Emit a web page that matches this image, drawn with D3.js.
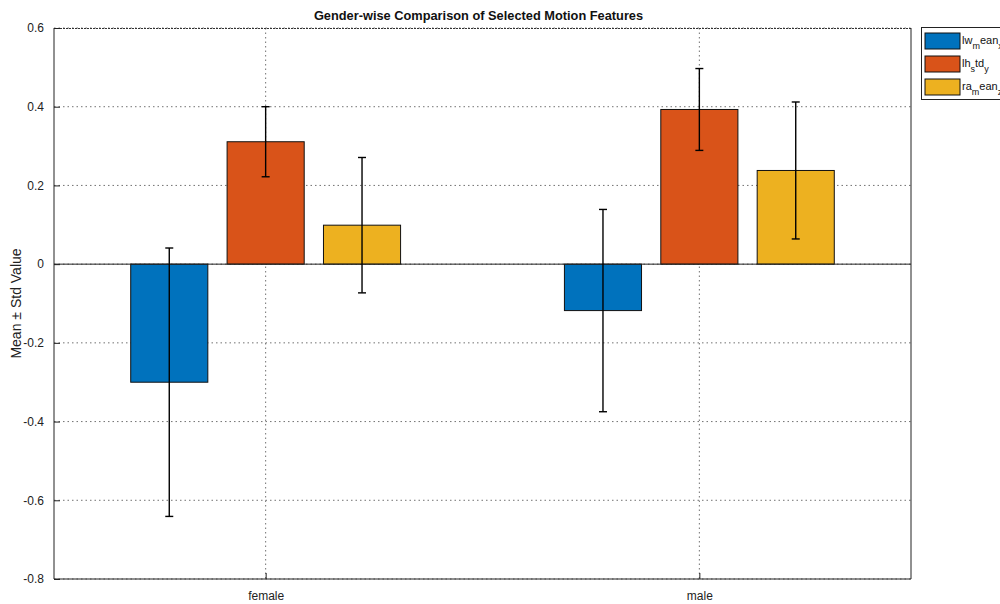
<!DOCTYPE html>
<html><head><meta charset="utf-8">
<script src="https://cdn.jsdelivr.net/npm/d3@7"></script>
<style>
html,body{margin:0;padding:0;background:#fff;overflow:hidden}
text{font-family:"Liberation Sans",Arial,sans-serif}
</style></head>
<body>
<svg id="c" width="1000" height="604"></svg>
<script>
const categories = ["female", "male"];
const seriesNames = ["lw_mean_x", "lh_std_y", "ra_mean_z"];
const legendParts = [
  [["lw",0],["m",1],["ean",0],["x",1]],
  [["lh",0],["s",1],["td",0],["y",1]],
  [["ra",0],["m",1],["ean",0],["z",1]]
];
const meanLw = [-0.300, -0.118];
const meanLh = [0.311, 0.393];
const meanRa = [0.099, 0.238];
const stdLw = [0.341, 0.257];
const stdLh = [0.089, 0.104];
const stdRa = [0.172, 0.174];
const yTicks = [-0.8, -0.6, -0.4, -0.2, 0, 0.2, 0.4, 0.6];
const yTickLabels = ["-0.8", "-0.6", "-0.4", "-0.2", "0", "0.2", "0.4", "0.6"];
const colors = ["#0072BD", "#D95319", "#EDB120"];

const means = [meanLw, meanLh, meanRa];
const stds = [stdLw, stdLh, stdRa];

const svg = d3.select("#c");
const L = 54, R = 911, T = 28, B = 579;
const x = d3.scaleLinear().domain([0.512, 2.488]).range([L, R]);
const y = d3.scaleLinear().domain([-0.8, 0.6]).range([B, T]);

// grid
const g = svg.append("g");
g.selectAll("line.gy").data(yTicks).enter().append("line")
  .attr("x1", L).attr("x2", R).attr("y1", d => y(d)).attr("y2", d => y(d))
  .attr("stroke", "#444").attr("stroke-width", 1).attr("stroke-dasharray", "1.5,3").attr("opacity", 0.75);
g.selectAll("line.gx").data(categories).enter().append("line")
  .attr("x1", (d,i) => x(i+1)).attr("x2", (d,i) => x(i+1)).attr("y1", T).attr("y2", B)
  .attr("stroke", "#444").attr("stroke-width", 1).attr("stroke-dasharray", "1.5,3").attr("opacity", 0.75);

// bars
const nS = seriesNames.length;
const groupW = Math.min(0.8, nS / (nS + 1.5));
const barW = groupW / nS * 0.8;
const offs = d3.range(nS).map(s => (s - (nS - 1) / 2) * groupW / nS);

const bars = svg.append("g");
means.forEach((arr, s) => {
  bars.selectAll("rect.s" + s).data(arr).enter().append("rect")
    .attr("x", (d,i) => x(i + 1 + offs[s] - barW/2))
    .attr("width", x(barW) - x(0))
    .attr("y", d => y(Math.max(0, d)))
    .attr("height", d => Math.abs(y(d) - y(0)))
    .attr("fill", colors[s]).attr("stroke", "#111").attr("stroke-width", 1);
});

// baseline
svg.append("line").attr("x1", L).attr("x2", R).attr("y1", y(0)).attr("y2", y(0))
  .attr("stroke", "#222").attr("stroke-width", 1);

// error bars
const eb = svg.append("g").attr("stroke", "#000").attr("stroke-width", 1.4);
means.forEach((arr, s) => {
  arr.forEach((m, i) => {
    const cx = x(i + 1 + offs[s]);
    const lo = y(m - stds[s][i]), hi = y(m + stds[s][i]);
    eb.append("line").attr("x1", cx).attr("x2", cx).attr("y1", lo).attr("y2", hi);
    eb.append("line").attr("x1", cx - 4).attr("x2", cx + 4).attr("y1", lo).attr("y2", lo);
    eb.append("line").attr("x1", cx - 4).attr("x2", cx + 4).attr("y1", hi).attr("y2", hi);
  });
});

// axes box
svg.append("line").attr("x1", L).attr("x2", R).attr("y1", T + 0.5).attr("y2", T + 0.5)
  .attr("stroke", "#333").attr("stroke-width", 1).attr("stroke-dasharray", "2,1");
svg.append("line").attr("x1", L).attr("x2", R).attr("y1", B).attr("y2", B).attr("stroke", "#222").attr("stroke-width", 1);
svg.append("line").attr("x1", L).attr("x2", L).attr("y1", T).attr("y2", B).attr("stroke", "#222").attr("stroke-width", 1);
svg.append("line").attr("x1", R).attr("x2", R).attr("y1", T).attr("y2", B).attr("stroke", "#222").attr("stroke-width", 1);

// y axis ticks + labels
const yAxis = d3.axisLeft(y).tickValues(yTicks).tickSizeInner(-6).tickSizeOuter(0).tickPadding(10)
  .tickFormat((d, i) => yTickLabels[i]);
const ya = svg.append("g").attr("transform", `translate(${L},0)`).call(yAxis);
ya.select(".domain").remove();
ya.selectAll("line").attr("stroke", "#222");
ya.selectAll("text").attr("font-size", 12).attr("fill", "#222").attr("font-family", "Liberation Sans, Arial, sans-serif");

// x axis
const xAxis = d3.axisBottom(x).tickValues([1, 2]).tickSizeInner(-6).tickSizeOuter(0).tickPadding(12)
  .tickFormat(d => categories[d - 1]);
const xa = svg.append("g").attr("transform", `translate(0,${B})`).call(xAxis);
xa.select(".domain").remove();
xa.selectAll("line").attr("stroke", "#222");
xa.selectAll("text").attr("font-size", 12).attr("fill", "#222").attr("font-family", "Liberation Sans, Arial, sans-serif");

// title
svg.append("text").attr("x", 478.5).attr("y", 20).attr("text-anchor", "middle")
  .attr("font-size", 12.8).attr("font-weight", "bold").attr("fill", "#111")
  .text("Gender-wise Comparison of Selected Motion Features");

// y label
svg.append("text").attr("transform", `translate(21,${(T + B) / 2}) rotate(-90)`)
  .attr("text-anchor", "middle").attr("font-size", 14).attr("fill", "#222")
  .text("Mean \u00B1 Std Value");

// legend
const lg = svg.append("g");
lg.append("rect").attr("x", 921.5).attr("y", 27.5).attr("width", 100).attr("height", 72)
  .attr("fill", "#fff").attr("stroke", "#222").attr("stroke-width", 1);
seriesNames.forEach((nm, s) => {
  const cy = 41 + s * 23;
  lg.append("rect").attr("x", 925).attr("y", cy - 8).attr("width", 35).attr("height", 16)
    .attr("fill", colors[s]).attr("stroke", "#111").attr("stroke-width", 1);
  const t = lg.append("text").attr("x", 962).attr("y", cy + 3).attr("font-size", 11).attr("fill", "#111");
  let prevSub = 0;
  legendParts[s].forEach(([str, sub]) => {
    t.append("tspan").attr("dy", sub - prevSub === 0 ? 0 : (sub ? 5 : -5))
      .attr("font-size", sub ? 9 : 11).text(str);
    prevSub = sub;
  });
});
</script>
</body></html>
